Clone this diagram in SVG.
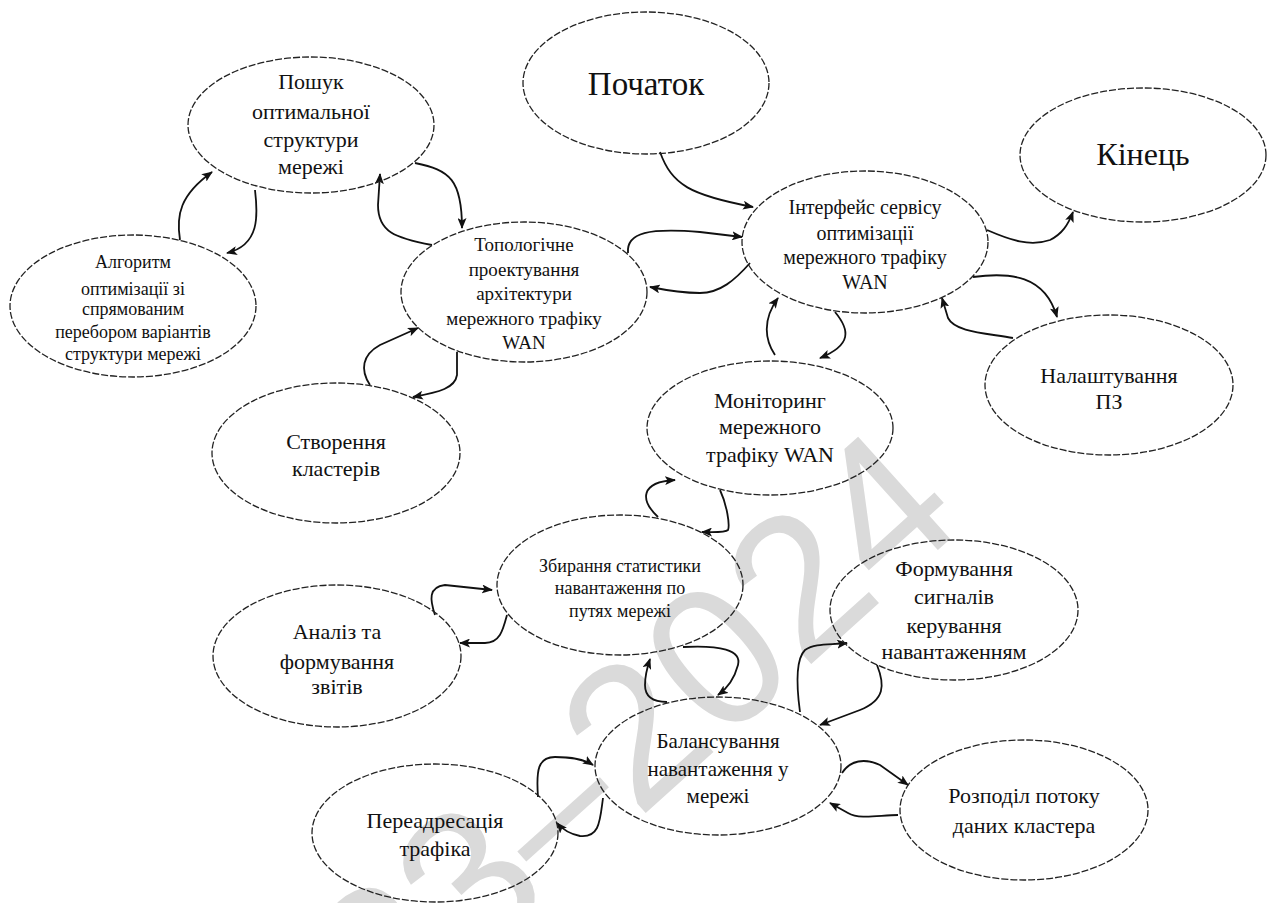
<svg xmlns="http://www.w3.org/2000/svg" width="1275" height="903" viewBox="0 0 1275 903">
  <defs>
    <marker id="ah" markerUnits="userSpaceOnUse" markerWidth="11" markerHeight="9" refX="10" refY="4.5" orient="auto">
      <path d="M0,0 L11,4.5 L0,9 L2.5,4.5 z" fill="#111"/>
    </marker>
    <style>
      .node ellipse { fill: none; stroke: #222; stroke-width: 1.3; stroke-dasharray: 7 2; }
      .node text { font-family: "Liberation Serif", "Times New Roman", serif; fill: #111; text-anchor: middle; }
      .conn path { fill: none; stroke: #111; stroke-width: 1.8; marker-end: url(#ah); }
      .wm { font-family: "Liberation Sans", Arial, sans-serif; fill: #dadada; font-size: 200px; }
    </style>
  </defs>
  <rect width="1275" height="903" fill="#fff"/>

  <!-- background year stamp -->
  <text class="wm" text-anchor="end" transform="translate(969,522) rotate(-42)">2023–2024</text>

  <!-- connectors -->
  <g id="connectors" class="conn">
    <path d="M180,240 C176,215 180,195 212,172"/>
    <path d="M255,190 C258,215 260,245 227,253"/>
    <path d="M432,245 C395,238 378,232 378,205 L380,174"/>
    <path d="M415,163 C450,170 462,180 462,228"/>
    <path d="M660,152 C672,185 690,195 753,207"/>
    <path d="M628,253 C626,232 650,228 700,232 L742,237"/>
    <path d="M750,263 C735,280 720,293 700,293 C680,293 665,290 650,287"/>
    <path d="M370,385 C360,370 362,355 380,345 L418,328"/>
    <path d="M457,352 L457,375 C455,388 440,392 413,397"/>
    <path d="M987,230 C1010,240 1030,247 1050,240 C1062,234 1068,225 1073,212"/>
    <path d="M973,277 C1010,272 1045,275 1057,317"/>
    <path d="M1013,338 C985,333 955,332 948,318 L942,298"/>
    <path d="M835,312 C850,330 852,345 820,358"/>
    <path d="M775,355 C765,340 762,320 778,298"/>
    <path d="M658,517 C640,500 640,482 675,480"/>
    <path d="M720,490 C727,505 730,525 728,530 C725,533 710,532 702,532"/>
    <path d="M683,647 C720,645 742,650 738,665 C734,680 725,690 718,695"/>
    <path d="M667,702 C650,702 645,695 645,685 C645,675 648,665 650,659"/>
    <path d="M435,615 C430,600 428,587 445,585 L492,590"/>
    <path d="M507,615 C503,630 500,643 485,643 L460,643"/>
    <path d="M800,712 C797,690 795,660 805,650 C815,643 830,645 847,643"/>
    <path d="M877,665 C885,685 885,700 860,710 L820,725"/>
    <path d="M538,797 C536,770 538,757 555,757 C570,757 585,760 593,765"/>
    <path d="M603,798 C600,820 600,838 580,836 C570,834 563,830 557,823"/>
    <path d="M842,773 C850,760 865,758 880,765 L908,785"/>
    <path d="M898,815 C880,815 860,820 848,813 L830,803"/>
  </g>

  <g id="poshuk" class="node">
    <ellipse cx="311" cy="125" rx="123" ry="68"/>
    <text font-size="22"><tspan x="311" y="89">Пошук</tspan><tspan x="311" y="119">оптимальної</tspan><tspan x="311" y="147">структури</tspan><tspan x="311" y="174">мережі</tspan></text>
  </g>
  <g id="algorytm" class="node">
    <ellipse cx="133" cy="306" rx="123" ry="71"/>
    <text font-size="18"><tspan x="133" y="268">Алгоритм</tspan><tspan x="133" y="295">оптимізації зі</tspan><tspan x="133" y="315">спрямованим</tspan><tspan x="133" y="338">перебором варіантів</tspan><tspan x="133" y="360">структури мережі</tspan></text>
  </g>
  <g id="pochatok" class="node">
    <ellipse cx="646" cy="83" rx="123" ry="71"/>
    <text font-size="33" x="646" y="95">Початок</text>
  </g>
  <g id="kinets" class="node">
    <ellipse cx="1143" cy="155" rx="123" ry="67"/>
    <text font-size="32" x="1143" y="165">Кінець</text>
  </g>
  <g id="interface" class="node">
    <ellipse cx="865" cy="242" rx="123" ry="71"/>
    <text font-size="20"><tspan x="865" y="214">Інтерфейс сервісу</tspan><tspan x="865" y="240">оптимізації</tspan><tspan x="865" y="264">мережного трафіку</tspan><tspan x="865" y="289">WAN</tspan></text>
  </g>
  <g id="topology" class="node">
    <ellipse cx="524" cy="292" rx="123" ry="70"/>
    <text font-size="19"><tspan x="524" y="251">Топологічне</tspan><tspan x="524" y="276">проектування</tspan><tspan x="524" y="300">архітектури</tspan><tspan x="524" y="325">мережного трафіку</tspan><tspan x="524" y="349">WAN</tspan></text>
  </g>
  <g id="clusters" class="node">
    <ellipse cx="336" cy="453" rx="124" ry="70"/>
    <text font-size="22"><tspan x="336" y="449">Створення</tspan><tspan x="336" y="476">кластерів</tspan></text>
  </g>
  <g id="monitoring" class="node">
    <ellipse cx="770" cy="428" rx="123" ry="67"/>
    <text font-size="22"><tspan x="770" y="408">Моніторинг</tspan><tspan x="770" y="434">мережного</tspan><tspan x="770" y="462">трафіку WAN</tspan></text>
  </g>
  <g id="setup" class="node">
    <ellipse cx="1109" cy="385" rx="124" ry="70"/>
    <text font-size="22"><tspan x="1109" y="383">Налаштування</tspan><tspan x="1109" y="409">ПЗ</tspan></text>
  </g>
  <g id="statistics" class="node">
    <ellipse cx="620" cy="585" rx="123" ry="70"/>
    <text font-size="18"><tspan x="620" y="572">Збирання статистики</tspan><tspan x="620" y="594">навантаження по</tspan><tspan x="620" y="617">путях мережі</tspan></text>
  </g>
  <g id="reports" class="node">
    <ellipse cx="337" cy="656" rx="124" ry="71"/>
    <text font-size="22"><tspan x="337" y="639">Аналіз та</tspan><tspan x="337" y="669">формування</tspan><tspan x="337" y="694">звітів</tspan></text>
  </g>
  <g id="signals" class="node">
    <ellipse cx="954" cy="610" rx="124" ry="70"/>
    <text font-size="22"><tspan x="954" y="576">Формування</tspan><tspan x="954" y="604">сигналів</tspan><tspan x="954" y="633">керування</tspan><tspan x="954" y="659">навантаженням</tspan></text>
  </g>
  <g id="balancing" class="node">
    <ellipse cx="718" cy="766" rx="123" ry="69"/>
    <text font-size="21"><tspan x="718" y="748">Балансування</tspan><tspan x="718" y="776">навантаження у</tspan><tspan x="718" y="803">мережі</tspan></text>
  </g>
  <g id="redirect" class="node">
    <ellipse cx="435" cy="833" rx="123" ry="69"/>
    <text font-size="22"><tspan x="435" y="828">Переадресація</tspan><tspan x="435" y="856">трафіка</tspan></text>
  </g>
  <g id="distribution" class="node">
    <ellipse cx="1024" cy="810" rx="124" ry="70"/>
    <text font-size="22"><tspan x="1024" y="803">Розподіл потоку</tspan><tspan x="1024" y="833">даних кластера</tspan></text>
  </g>
</svg>
